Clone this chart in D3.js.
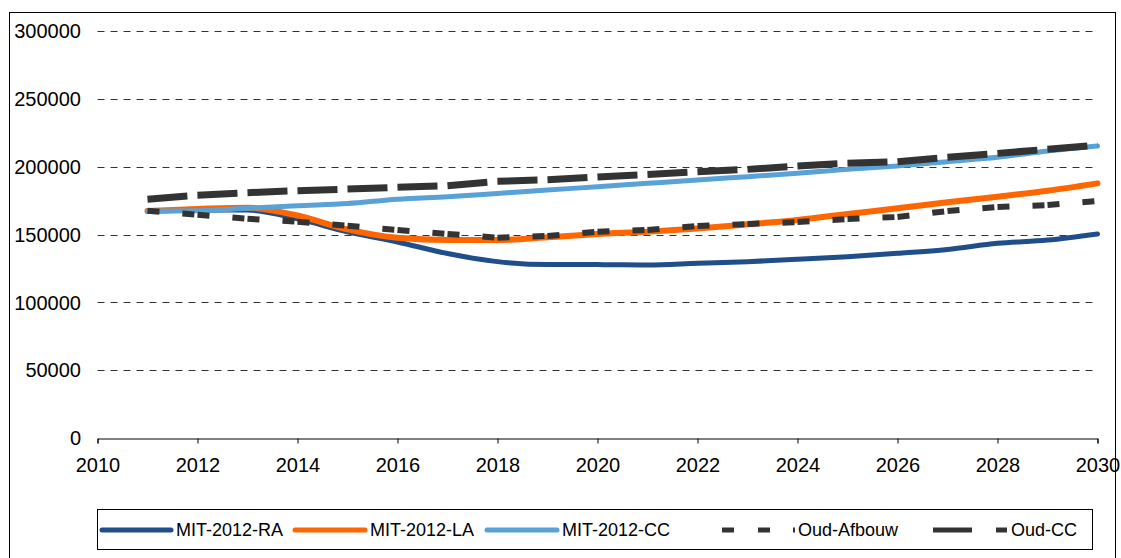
<!DOCTYPE html>
<html>
<head>
<meta charset="utf-8">
<script src="https://cdn.jsdelivr.net/npm/d3@7"></script>
<style>
  html, body { margin: 0; padding: 0; background: #fff; }
  svg { display: block; font-family: "Liberation Sans", Arial, sans-serif; }
</style>
</head>
<body>
<div id="chart"></div>
<script>
// years 2011..2030
const years = d3.range(2011, 2031);

const mitRA = [167300, 167800, 168000, 161500, 152000, 144500, 136000, 130000, 127800, 127800,
               127600, 128800, 130000, 131700, 133600, 136100, 139000, 143500, 145900, 150400];
const mitLA = [167300, 168800, 169800, 164000, 153800, 147600, 146000, 146000, 147900, 150400,
               152100, 154500, 157500, 160700, 165100, 169300, 173700, 177900, 182300, 187700];
const mitCC = [167300, 167500, 169300, 171200, 172800, 176000, 177900, 180300, 182800, 185200,
               187700, 190200, 192600, 195100, 198000, 200500, 203700, 206900, 211500, 215200];
const oudAfbouw = [167500, 164600, 161600, 159400, 156500, 153300, 150400, 147600, 148900, 152100,
                   153300, 156300, 157700, 159200, 161400, 162900, 167300, 170300, 171700, 174700];
const oudCC = [176000, 179000, 180800, 182300, 183500, 184800, 186000, 189200, 190400, 192400,
               194300, 196300, 198000, 200500, 202500, 203700, 206900, 209800, 212800, 215800];

const yTicks = [0, 50000, 100000, 150000, 200000, 250000, 300000];
const xTicks = d3.range(2010, 2031, 2);

const series = [
  { name: 'MIT-2012-RA', values: mitRA, color: '#1f4e8a', width: 5, dashed: false },
  { name: 'MIT-2012-LA', values: mitLA, color: '#ff6600', width: 6, dashed: false },
  { name: 'MIT-2012-CC', values: mitCC, color: '#58a2d8', width: 5, dashed: false },
  { name: 'Oud-Afbouw', values: oudAfbouw, color: '#333333', width: 6, dashed: '12,23' },
  { name: 'Oud-CC', values: oudCC, color: '#333333', width: 7, dashed: '40,10' }
];

const W = 1121, H = 558;
const svg = d3.select('#chart').append('svg').attr('width', W).attr('height', H);

// chart area frame
svg.append('rect')
  .attr('x', 9.5).attr('y', 12.5)
  .attr('width', 1106).attr('height', 560)
  .attr('fill', '#fff').attr('stroke', '#000').attr('stroke-width', 1);

const x = d3.scaleLinear().domain([2010, 2030]).range([97.5, 1097.5]);
const y = d3.scaleLinear().domain([0, 300000]).range([438, 31]);

// gridlines
svg.append('g')
  .selectAll('line')
  .data(yTicks.filter(d => d > 0))
  .enter().append('line')
  .attr('x1', x(2010)).attr('x2', x(2030))
  .attr('y1', d => Math.round(y(d)) + 0.5).attr('y2', d => Math.round(y(d)) + 0.5)
  .attr('stroke', '#333').attr('stroke-width', 1)
  .attr('stroke-dasharray', '7,6');

// y labels
svg.append('g')
  .selectAll('text')
  .data(yTicks)
  .enter().append('text')
  .attr('x', 81).attr('y', d => y(d))
  .attr('dy', '0.36em')
  .attr('text-anchor', 'end')
  .attr('font-size', 20)
  .attr('fill', '#000')
  .text(d => d);

// x axis
const xAxis = d3.axisBottom(x)
  .tickValues(xTicks)
  .tickFormat(d3.format('d'))
  .tickSize(5)
  .tickPadding(14);
const gx = svg.append('g').attr('transform', 'translate(0,438.5)').call(xAxis);
gx.select('.domain').attr('stroke', '#000');
gx.selectAll('.tick line').attr('stroke', '#000');
gx.selectAll('.tick text')
  .attr('font-size', 20)
  .attr('font-family', '"Liberation Sans", Arial, sans-serif')
  .attr('fill', '#000');

// lines
const lineSmooth = d3.line()
  .x((d, i) => x(years[i]))
  .y(d => y(d))
  .curve(d3.curveMonotoneX);

const plot = svg.append('g');

series.forEach(s => {
  if (!s.dashed) {
    plot.append('path')
      .datum(s.values)
      .attr('d', lineSmooth)
      .attr('fill', 'none')
      .attr('stroke', s.color)
      .attr('stroke-width', s.width)
      .attr('stroke-linejoin', 'round')
      .attr('stroke-linecap', 'round');
  } else {
    // dash pattern restarts on every segment
    const segs = d3.pairs(s.values.map((v, i) => [x(years[i]), y(v)]));
    plot.append('g')
      .selectAll('path')
      .data(segs)
      .enter().append('path')
      .attr('d', d => d3.line()(d))
      .attr('fill', 'none')
      .attr('stroke', s.color)
      .attr('stroke-width', s.width)
      .attr('stroke-dasharray', s.dashed);
  }
});

// order: dashed lines drawn after solid ones (already by series order)

// legend
const lg = svg.append('g');
lg.append('rect')
  .attr('x', 97.5).attr('y', 509.5)
  .attr('width', 995).attr('height', 40)
  .attr('fill', '#fff').attr('stroke', '#000');

const legendItems = [
  { s: series[0], x0: 102, x1: 171, tx: 176 },
  { s: series[1], x0: 295, x1: 365, tx: 370 },
  { s: series[2], x0: 487, x1: 557, tx: 562 },
  { s: series[3], x0: 722, x1: 795, tx: 798, dash: '12,24,12,23' },
  { s: series[4], x0: 933, x1: 1007, tx: 1011, dash: '39,24' }
];

legendItems.forEach(it => {
  lg.append('line')
    .attr('x1', it.x0).attr('x2', it.x1)
    .attr('y1', 530).attr('y2', 530)
    .attr('stroke', it.s.color)
    .attr('stroke-width', 5)
    .attr('stroke-linecap', it.dash ? 'butt' : 'round')
    .attr('stroke-dasharray', it.dash || null);
  lg.append('text')
    .attr('x', it.tx).attr('y', 536)
    .attr('font-size', 18)
    .attr('fill', '#000')
    .text(it.s.name);
});
</script>
</body>
</html>
